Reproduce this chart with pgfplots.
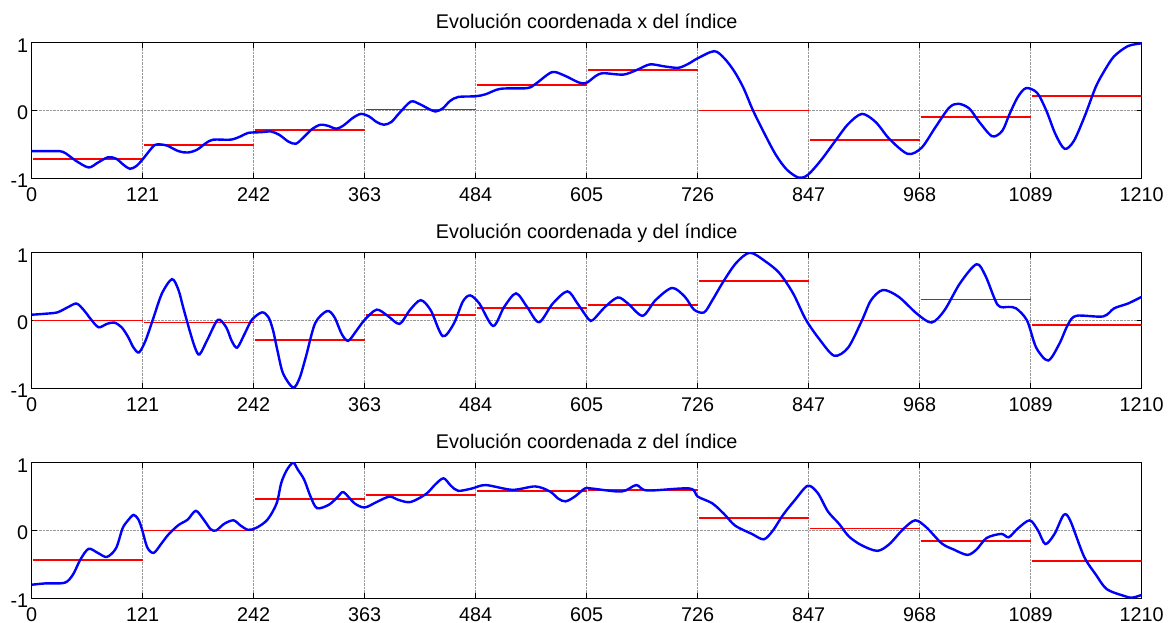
\documentclass[border=0pt]{standalone}
\usepackage{fontspec}
\setmainfont{Liberation Sans}
\usepackage{pgfplots}
\pgfplotsset{compat=1.18}
\newcommand{\myfont}{\fontsize{19.8}{23}\selectfont}
\pgfplotsset{myax/.style={
  scale only axis, width=1110pt, height=135.6pt,
  xmin=0, xmax=1210, ymin=-1, ymax=1,
  xtick={0,121,242,363,484,605,726,847,968,1089,1210},
  xticklabels={0,121,242,363,484,605,726,847,968,1089,1210},
  ytick={-1,0,1}, yticklabels={-1,0,1},
  tick align=inside, major tick length=5pt,
  xmajorgrids, ymajorgrids,
  grid style={densely dotted, black!40, line width=0.8pt},
  axis line style={line width=1.2pt},
  tick style={black, line width=0.8pt},
  tick label style={font=\myfont},
  title style={font=\myfont, anchor=base, at={(0.5,1)}, yshift=8.4pt},
  xticklabel style={anchor=base, yshift=-23pt},
  yticklabel style={yshift=-2.5pt},
  unbounded coords=jump,
  anchor=north west,
}}
\begin{document}
\begin{tikzpicture}
\useasboundingbox (-31.7pt,-580.3pt) rectangle (1138.3pt,42.7pt);
% ---------- x ----------
\begin{axis}[myax, at={(0pt,0pt)}, title={Evolución coordenada x del índice}]
\addplot[red, line width=1.9pt] coordinates {
(1,-0.71) (121,-0.71) (121,nan)
(122,-0.51) (242,-0.51) (242,nan)
(243,-0.29) (363,-0.29) (363,nan)
(364,0.015) (484,0.015) (484,nan)
(485,0.37) (605,0.37) (605,nan)
(606,0.6) (726,0.6) (726,nan)
(727,0.0) (847,0.0) (847,nan)
(848,-0.43) (968,-0.43) (968,nan)
(969,-0.1) (1089,-0.1) (1089,nan)
(1090,0.21) (1210,0.21)};
\addplot[blue, line width=2.4pt, smooth] coordinates {
(0,-0.6) (20,-0.6) (34,-0.61) (48,-0.74) (62,-0.84) (72,-0.77) (83,-0.69) (92,-0.71) (100,-0.8) (107,-0.86) (114,-0.82) (121,-0.72) (128,-0.6) (134,-0.51) (140,-0.5) (148,-0.52) (160,-0.6) (170,-0.62) (180,-0.58) (190,-0.48) (198,-0.43) (217,-0.43) (228,-0.38) (236,-0.33) (250,-0.32) (261,-0.31) (270,-0.36) (280,-0.46) (288,-0.49) (296,-0.4) (306,-0.27) (315,-0.21) (324,-0.23) (332,-0.27) (340,-0.22) (350,-0.11) (359,-0.05) (368,-0.09) (376,-0.17) (384,-0.21) (392,-0.17) (400,-0.05) (413,0.13) (422,0.1) (432,0.03) (440,-0.015) (448,0.03) (456,0.14) (465,0.2) (484,0.21) (495,0.24) (511,0.32) (540,0.33) (550,0.4) (567,0.565) (580,0.52) (597,0.41) (605,0.41) (615,0.51) (623,0.55) (645,0.53) (660,0.6) (674,0.68) (690,0.65) (705,0.63) (716,0.69) (726,0.77) (744,0.875) (755,0.77) (766,0.575) (776,0.33) (786,0.01) (798,-0.32) (811,-0.65) (823,-0.87) (836,-0.99) (846,-0.95) (860,-0.74) (877,-0.43) (890,-0.2) (905,-0.05) (920,-0.17) (935,-0.42) (955,-0.64) (970,-0.55) (985,-0.25) (1000,0.04) (1010,0.1) (1022,0.03) (1033,-0.17) (1047,-0.38) (1058,-0.3) (1066,-0.05) (1075,0.2) (1084,0.33) (1096,0.26) (1106,0.0) (1116,-0.35) (1126,-0.565) (1136,-0.45) (1148,-0.08) (1160,0.35) (1170,0.6) (1180,0.8) (1195,0.95) (1210,0.99)};
\end{axis}
% ---------- y ----------
\begin{axis}[myax, at={(0pt,-210pt)}, title={Evolución coordenada y del índice}]
\addplot[red, line width=1.9pt] coordinates {
(1,0.0) (121,0.0) (121,nan)
(122,-0.03) (242,-0.03) (242,nan)
(243,-0.29) (363,-0.29) (363,nan)
(364,0.08) (484,0.08) (484,nan)
(485,0.18) (605,0.18) (605,nan)
(606,0.23) (726,0.23) (726,nan)
(727,0.585) (847,0.585) (847,nan)
(848,0.0) (968,0.0) (968,nan)
(969,0.31) (1089,0.31) (1089,nan)
(1090,-0.065) (1210,-0.065)};
\addplot[blue, line width=2.4pt, smooth] coordinates {
(0,0.085) (15,0.1) (28,0.12) (40,0.2) (49,0.25) (57,0.15) (65,0.01) (73,-0.1) (82,-0.05) (90,-0.03) (98,-0.1) (105,-0.24) (111,-0.4) (117,-0.47) (124,-0.3) (132,0.01) (142,0.4) (153,0.61) (160,0.45) (165,0.2) (172,-0.14) (178,-0.4) (183,-0.5) (192,-0.27) (203,0.01) (212,-0.1) (218,-0.3) (224,-0.4) (232,-0.2) (240,0.01) (251,0.12) (258,0.05) (263,-0.14) (268,-0.45) (274,-0.78) (285,-0.99) (292,-0.85) (299,-0.53) (309,-0.04) (322,0.14) (330,0.05) (338,-0.2) (345,-0.3) (354,-0.15) (363,0.01) (376,0.16) (388,0.07) (401,-0.05) (412,0.15) (424,0.3) (435,0.15) (448,-0.23) (460,-0.05) (470,0.28) (478,0.37) (488,0.25) (503,-0.08) (515,0.2) (528,0.4) (540,0.2) (553,-0.025) (568,0.25) (584,0.43) (595,0.25) (607,0.02) (612,0.01) (625,0.2) (639,0.34) (650,0.25) (666,0.07) (680,0.3) (698,0.48) (712,0.35) (722,0.16) (733,0.12) (742,0.3) (754,0.575) (768,0.85) (783,1.0) (800,0.87) (815,0.7) (830,0.4) (844,0.01) (860,-0.3) (875,-0.52) (890,-0.4) (905,0.0) (915,0.3) (928,0.45) (945,0.35) (965,0.1) (981,-0.03) (995,0.15) (1012,0.55) (1030,0.83) (1040,0.65) (1053,0.23) (1065,0.2) (1073,0.18) (1085,0.0) (1095,-0.4) (1108,-0.59) (1120,-0.35) (1130,-0.05) (1139,0.07) (1168,0.06) (1180,0.18) (1195,0.25) (1210,0.35)};
\end{axis}
% ---------- z ----------
\begin{axis}[myax, at={(0pt,-420pt)}, title={Evolución coordenada z del índice}]
\addplot[red, line width=1.9pt] coordinates {
(1,-0.43) (121,-0.43) (121,nan)
(122,0.0) (242,0.0) (242,nan)
(243,0.46) (363,0.46) (363,nan)
(364,0.52) (484,0.52) (484,nan)
(485,0.58) (605,0.58) (605,nan)
(606,0.6) (726,0.6) (726,nan)
(727,0.18) (847,0.18) (847,nan)
(848,0.03) (968,0.03) (968,nan)
(969,-0.16) (1089,-0.16) (1089,nan)
(1090,-0.45) (1210,-0.45)};
\addplot[blue, line width=2.4pt, smooth] coordinates {
(0,-0.8) (15,-0.78) (36,-0.77) (45,-0.65) (53,-0.43) (62,-0.27) (72,-0.33) (82,-0.39) (92,-0.26) (99,0.03) (105,0.15) (111,0.23) (116,0.17) (120,0.03) (126,-0.25) (133,-0.33) (141,-0.2) (149,-0.06) (160,0.08) (170,0.16) (179,0.29) (188,0.15) (195,0.02) (201,0.0) (210,0.1) (220,0.15) (228,0.07) (236,0.01) (245,0.04) (257,0.16) (267,0.4) (272,0.7) (278,0.89) (285,1.0) (290,0.9) (297,0.75) (304,0.5) (311,0.33) (324,0.38) (334,0.5) (340,0.565) (352,0.4) (363,0.34) (376,0.42) (390,0.5) (400,0.45) (413,0.42) (430,0.54) (440,0.68) (449,0.77) (457,0.66) (465,0.585) (480,0.62) (495,0.67) (524,0.6) (549,0.65) (565,0.575) (574,0.47) (582,0.43) (592,0.5) (603,0.62) (610,0.62) (643,0.575) (659,0.67) (671,0.59) (717,0.62) (726,0.5) (742,0.4) (755,0.24) (767,0.07) (785,-0.05) (798,-0.13) (808,0.0) (819,0.23) (832,0.45) (846,0.66) (857,0.55) (868,0.28) (880,0.1) (891,-0.09) (905,-0.22) (922,-0.3) (935,-0.2) (950,0.02) (963,0.15) (975,0.05) (992,-0.19) (1005,-0.28) (1020,-0.36) (1030,-0.28) (1041,-0.11) (1057,-0.05) (1065,-0.1) (1075,0.03) (1088,0.15) (1097,0.0) (1105,-0.2) (1115,-0.05) (1125,0.23) (1132,0.15) (1147,-0.38) (1160,-0.65) (1172,-0.865) (1192,-0.97) (1200,-0.99) (1210,-0.95)};
\end{axis}
\end{tikzpicture}
\end{document}
